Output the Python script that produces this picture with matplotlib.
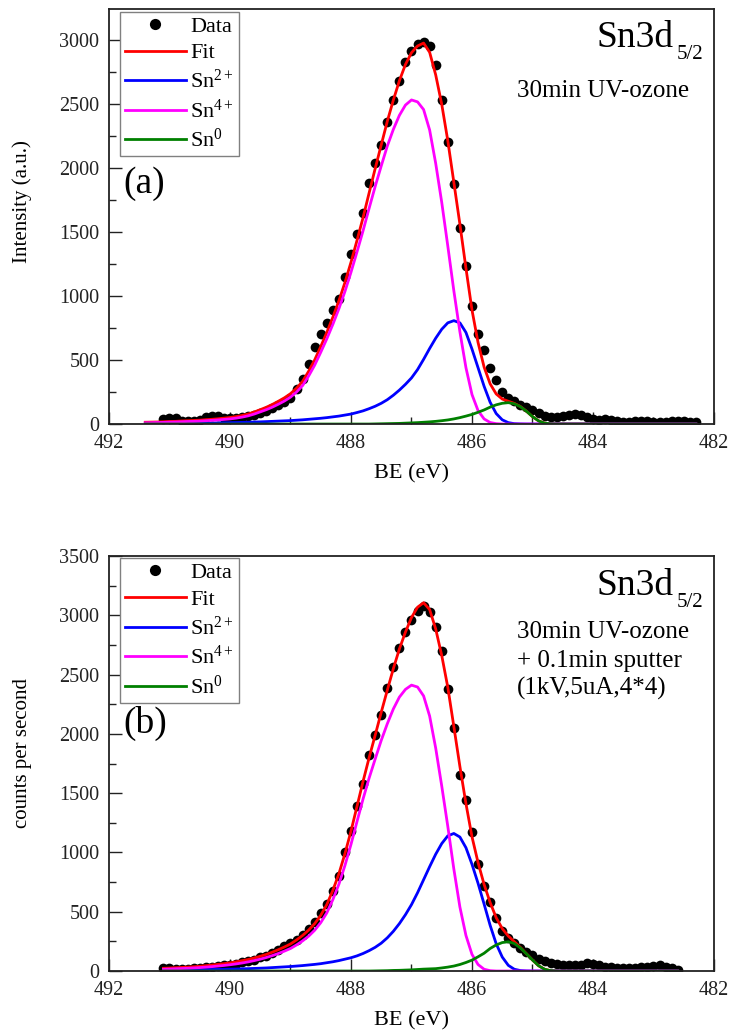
import numpy as np
import matplotlib
matplotlib.use("Agg")
import matplotlib.pyplot as plt
from matplotlib.ticker import MultipleLocator

plt.rcParams["font.family"] = "Liberation Serif"
plt.rcParams["mathtext.fontset"] = "custom"
plt.rcParams["mathtext.rm"] = "Liberation Serif"
plt.rcParams["mathtext.it"] = "Liberation Serif:italic"

STEP = 0.1

# ---- (a) 30 min UV-ozone ----
BE_A = np.linspace(491.1, 482.3, 89)
COUNTS_A = [
    40, 48, 45, 25, 22, 25, 30, 58, 66, 60,
    45, 44, 48, 55, 62, 72, 86, 105, 125, 145,
    170, 203, 270, 350, 470, 600, 700, 790, 890, 980,
    1150, 1330, 1480, 1650, 1880, 2040, 2180, 2360, 2530, 2680,
    2830, 2910, 2965, 2985, 2955, 2800, 2530, 2200, 1870, 1530,
    1230, 920, 700, 575, 440, 345, 250, 205, 180, 152,
    130, 112, 85, 62, 55, 57, 62, 68, 78, 72,
    55, 40, 35, 36, 28, 20, 16, 18, 20, 26,
    24, 18, 15, 18, 22, 26, 20, 16, 14,
]
GRID_A = np.linspace(491.4, 482.3, 92)
SN4_A = [  # from 491.4 eV
    10, 11, 12, 13, 15, 16, 18, 20, 21, 23,
    26, 29, 32, 36, 40, 46, 54, 64, 78, 95,
    112, 132, 155, 180, 210, 250, 300, 375, 460, 560,
    665, 778, 900, 1035, 1185, 1345, 1510, 1685, 1855, 2015,
    2170, 2300, 2410, 2490, 2530, 2515, 2455, 2295, 2035, 1730,
    1390, 1040, 720, 440, 230, 105, 40, 12, 3, 0,
]
SN2_A = [  # from 491.4 eV
    4, 4, 4, 5, 5, 5, 6, 6, 7, 7,
    8, 8, 9, 10, 11, 12, 13, 14, 16, 17,
    19, 21, 23, 25, 27, 30, 33, 37, 41, 45,
    50, 56, 62, 70, 78, 90, 103, 120, 139, 162,
    190, 225, 265, 310, 360, 425, 505, 590, 670, 740,
    790, 807, 790, 715, 585, 440, 295, 170, 82, 33,
    11, 3, 1,
]
SN0_A = [  # from 487.6 eV
    1, 2, 3, 4, 5, 7, 9, 11, 14, 17,
    21, 26, 32, 40, 50, 62, 75, 92, 110, 132,
    150, 162, 167, 158, 136, 100, 58, 25, 7, 1,
]

# ---- (b) 30 min UV-ozone + 0.1 min sputter ----
BE_B = np.linspace(491.1, 482.6, 86)
COUNTS_B = [
    22, 24, 18, 15, 18, 22, 25, 30, 37, 42,
    48, 55, 63, 72, 85, 95, 118, 130, 148, 180,
    210, 235, 262, 300, 355, 410, 490, 565, 675, 800,
    1000, 1180, 1390, 1580, 1820, 1990, 2160, 2390, 2560, 2720,
    2860, 2960, 3040, 3080, 3030, 2900, 2700, 2380, 2050, 1650,
    1440, 1170, 900, 720, 580, 450, 340, 280, 235, 195,
    160, 135, 105, 88, 68, 58, 52, 50, 50, 55,
    68, 60, 48, 38, 32, 28, 24, 22, 25, 30,
    35, 45, 50, 38, 22, 10,
]
GRID_B = np.linspace(491.1, 482.6, 86)
SN4_B = [  # from 491.1 eV
    15, 17, 19, 21, 23, 26, 29, 33, 37, 42,
    47, 53, 60, 68, 77, 88, 100, 114, 130, 148,
    168, 190, 220, 254, 294, 344, 408, 490, 602, 732,
    890, 1068, 1262, 1452, 1628, 1788, 1945, 2085, 2210, 2310,
    2375, 2411, 2395, 2320, 2150, 1880, 1560, 1220, 860, 540,
    300, 140, 55, 15, 3, 0,
]
SN2_B = [  # from 491.1 eV
    8, 8, 9, 9, 10, 10, 11, 12, 13, 14,
    15, 16, 17, 19, 20, 22, 24, 26, 29, 32,
    35, 38, 42, 46, 51, 56, 62, 70, 78, 88,
    100, 112, 128, 148, 172, 200, 235, 280, 335, 400,
    475, 560, 660, 770, 880, 985, 1075, 1140, 1160, 1130,
    1040, 900, 740, 565, 385, 230, 118, 48, 15, 4,
    1,
]
SN0_B = [  # from 487.6 eV
    1, 2, 3, 5, 6, 8, 10, 13, 16, 18,
    20, 26, 33, 42, 55, 72, 92, 120, 150, 190,
    220, 240, 247, 232, 195, 145, 93, 45, 15, 3,
]


def on_grid(grid, first, vals):
    # component is zero outside the listed range
    out = np.zeros(len(grid))
    i = int(round((grid[0] - first) / STEP))
    out[i:i + len(vals)] = vals
    return out


def draw_panel(ax, be, counts, grid, sn2, sn4, sn0, ymax, tag, tag_y,
               title_y, sub_y, notes, note_y, ylabel, ylabel_y, leg_top):
    fit = sn2 + sn4 + sn0
    ax.plot(be, counts, "o", color="black", ms=7, mew=0, label="Data")
    ax.plot(grid, fit, color="#ff0000", lw=2, label="Fit")
    ax.plot(grid, sn2, color="#0000ff", lw=2, label="Sn$^{2+}$")
    ax.plot(grid, sn4, color="#ff00ff", lw=2, label="Sn$^{4+}$")
    ax.plot(grid, sn0, color="#008000", lw=2, label="Sn$^{0}$")

    ax.set_xlim(492, 482)
    ax.set_ylim(0, ymax)
    ax.xaxis.set_major_locator(MultipleLocator(2))
    ax.xaxis.set_minor_locator(MultipleLocator(1))
    ax.yaxis.set_major_locator(MultipleLocator(500))
    ax.yaxis.set_minor_locator(MultipleLocator(250))
    ax.tick_params(which="both", direction="in", top=False, right=False,
                   width=1, labelsize=14.5, colors="#222222")
    ax.tick_params(which="major", length=9)
    ax.tick_params(which="minor", length=5)
    ax.tick_params(axis="y", pad=7)
    ax.tick_params(axis="x", pad=7)
    for sp in ax.spines.values():
        sp.set_linewidth(1.3)
        sp.set_color("#222222")

    ax.set_xlabel("BE (eV)", fontsize=16)
    ax.xaxis.set_label_coords(0.5, -0.098)
    ax.xaxis.label.set_va("top")
    ax.set_ylabel(ylabel, fontsize=15)
    ax.yaxis.set_label_coords(-0.127, ylabel_y)

    leg = ax.legend(loc="upper left", bbox_to_anchor=(0.019, leg_top),
                    borderaxespad=0, fontsize=16, handlelength=2.75,
                    handletextpad=0.2, labelspacing=0.28, borderpad=0.2,
                    fancybox=False, edgecolor="#808080", markerscale=1.15,
                    framealpha=1)
    leg.get_frame().set_linewidth(1.0)

    ax.text(0.023, tag_y, tag, transform=ax.transAxes, fontsize=27,
            ha="left", va="baseline")
    ax.text(0.934, title_y, "Sn3d", transform=ax.transAxes, fontsize=27,
            ha="right", va="baseline")
    ax.text(0.938, sub_y, "5/2", transform=ax.transAxes, fontsize=15,
            ha="left", va="baseline")
    for i, line in enumerate(notes):
        ax.text(0.675, note_y - i * 0.0685, line, transform=ax.transAxes,
                fontsize=18, ha="left", va="baseline")


fig = plt.figure(figsize=(7.32, 10.34), dpi=100)
ax_a = fig.add_axes([0.1489, 0.5899, 0.8265, 0.4014])
ax_b = fig.add_axes([0.1489, 0.0609, 0.8265, 0.4014])

draw_panel(ax_a, BE_A, COUNTS_A, GRID_A,
           on_grid(GRID_A, 491.4, SN2_A),
           on_grid(GRID_A, 491.4, SN4_A),
           on_grid(GRID_A, 487.6, SN0_A),
           3240, "(a)", 0.557, 0.909, 0.879,
           ["30min UV-ozone"], 0.789,
           "Intensity (a.u.)", 0.535, 0.9935)

draw_panel(ax_b, BE_B, COUNTS_B, GRID_B,
           on_grid(GRID_B, 491.1, SN2_B),
           on_grid(GRID_B, 491.1, SN4_B),
           on_grid(GRID_B, 487.6, SN0_B),
           3500, "(b)", 0.573, 0.906, 0.876,
           ["30min UV-ozone", "+ 0.1min sputter", "(1kV,5uA,4*4)"], 0.802,
           "counts per second", 0.525, 0.9945)

fig.savefig("out.png", dpi=100)
